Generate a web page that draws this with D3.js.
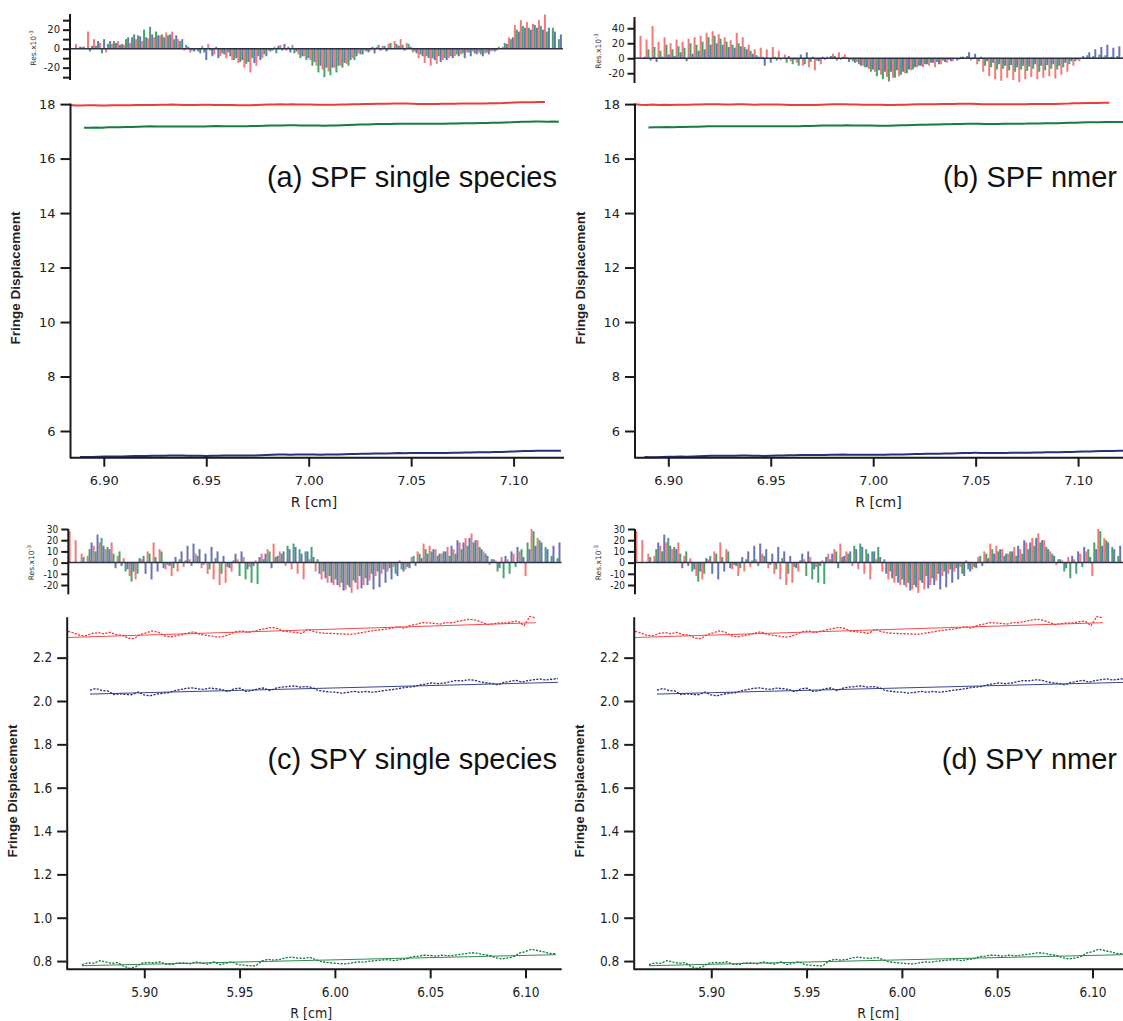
<!DOCTYPE html>
<html>
<head>
<meta charset="utf-8">
<script src="https://cdn.jsdelivr.net/npm/d3@7"></script>
<style>
  body { margin: 0; background: #fff; }
  svg { display: block; }
</style>
</head>
<body>
<svg id="chart" width="1123" height="1021"></svg>
<script>
// ---------------- SPF run (panels a, b) ----------------
// radial range of each scan [start, end] in cm
const spfRedRange   = [6.8835, 7.1153];
const spfGreenRange = [6.8903, 7.1221];
const spfBlueRange  = [6.8884, 7.1231];
// linear fits: [fringe value at range start, slope per cm]
const spfRedFit   = [17.94, 0.45];
const spfGreenFit = [17.13, 0.92];
const spfBlueFit  = [5.04, 0.94];

// residuals (x10^-3), single species fit
const spfSingleRedRes = [25,5,2,18,10,6,-4,5,8,4, 6,10,8,11,12,14,17,18,10,-2, -4,0,3,5,-6,-8,-10,-12,-15,-20,
  -25,-18,-10,-2,2,4,-2,4,-6,-8, -12,-18,-22,-24,-20,-18,-16,-10,-5,-2, -2,2,3,5,8,10,6,-4,-10,-15,
  -18,-16,-12,-10,-8,-6,-4,-3,-4,-5, -3,-2,2,12,25,30,28,26,30,36];
const spfSingleGreenRes = [2,-3,3,-5,5,8,4,10,12,14, 20,23,18,15,14,10,8,4,-2,-3, -4,-2,2,-5,-4,-12,-14,-16,-10,-8,
  -6,-3,-5,-2,2,-5,-10,-12,-18,-25, -30,-28,-25,-20,-18,-12,-6,-3,2,4, 3,6,5,4,5,-3,-6,-8,-10,-8,
  -10,-8,-6,-5,-4,-5,-6,-4,-2,2, 6,10,20,24,22,25,24,18,22,10];
const spfSingleBlueRes = [2,0,3,8,10,8,6,5,12,15, 13,12,15,14,12,15,14,10,2,-3, -5,-12,-8,-10,-6,-8,-10,-12,-14,-15,
  -12,-8,-2,3,5,-4,-3,-8,-10,-14, -18,-20,-20,-18,-15,-12,-8,-6,-4,-5, -2,-3,0,3,-2,2,-5,-8,-10,-12,
  -14,-12,-10,-8,-10,-8,-6,-8,-6,-3, 0,5,12,18,22,20,22,20,22,18, 15];

// residuals (x10^-3), nmer fit
const spfNmerRedRes = [50,30,25,43,22,28,20,25,22,26, 28,30,34,36,32,28,24,34,28,18, 12,14,12,15,10,5,-4,-6,-10,-12,
  -16,-8,2,6,8,5,-2,-5,-10,-14, -18,-22,-25,-26,-24,-20,-16,-12,-12,-10, -12,-8,-6,-4,-2,0,-3,-8,-18,-24,
  -28,-30,-26,-29,-32,-28,-25,-28,-26,-24, -27,-22,-18,-10,-4,-1,1,0,2,1];
const spfNmerGreenRes = [12,15,10,18,12,16,14,20,18,22, 28,30,26,22,18,20,15,10,4,2, 0,2,-2,-6,-8,-10,-8,-5,-3,2,
  0,3,-2,1,-4,-8,-12,-18,-24,-28, -31,-26,-22,-20,-15,-10,-8,-6,-5,-3, -2,0,2,3,1,-4,-10,-12,-15,-14,
  -16,-18,-15,-17,-14,-18,-16,-14,-15,-12, -8,-4,0,4,3,5,4,2,3,2];
const spfNmerBlueRes = [2,-3,-5,2,5,3,8,-4,6,10, 12,18,20,18,15,14,16,12,6,2, -10,-6,-3,0,3,-2,5,8,2,-4,
  -2,3,-3,2,-5,-6,-10,-12,-15,-16, -18,-18,-16,-18,-15,-12,-10,-8,-6,-8, -5,-4,-3,2,8,6,2,-4,-6,-8,
  -10,-9,-12,-10,-11,-8,-10,-9,-8,-10, -6,-4,-2,3,8,12,15,18,14,16, 12,18];
const spfNmerBlueRange = [6.8884, 7.1260];

// ---------------- SPY run (panels c, d) ----------------
const spyRedRange   = [5.8600, 6.1055];
const spyGreenRange = [5.8673, 6.1160];
const spyBlueRange  = [5.8715, 6.1170];
const spyRedFit   = [2.293, 0.278];
const spyGreenFit = [0.7785, 0.205];
const spyBlueFit  = [2.032, 0.220];

const spyRedRes = [28,20,8,6,15,18,12,18,6,4, -12,-15,3,10,18,12,-6,-12,-8,-4, 3,8,-5,-10,-15,-20,-18,-8,3,5,
  -4,2,8,12,17,10,-3,-6,-10,-15, 3,-8,-15,-18,-20,-22,-24,-27,-24,-20, -16,-12,-10,-8,-4,2,-6,5,10,17,
  15,12,8,14,12,18,22,26,20,10, -2,2,5,3,8,10,-12,30,22];
const spyGreenRes = [5,12,10,22,14,8,10,-8,-17,-10, 6,8,5,10,-2,-5,3,2,-3,6, -2,-6,4,-10,-4,2,-12,-15,-18,-19,
  3,10,5,8,15,17,12,10,14,3, -8,-12,-15,-18,-20,-16,-12,-14,-10,-8, -6,-5,-10,-6,-4,6,8,12,10,6,
  10,6,8,12,15,18,14,8,3,-8, -14,-10,-4,12,18,28,20,14,6,4];
const spyBlueRes = [18,25,15,12,-5,-3,-6,-8,4,-10, -15,-8,-5,-3,5,10,15,17,12,8, 14,10,6,-5,8,10,-6,-3,5,8,
  -5,6,10,12,14,8,10,5,-10,-14, -18,-20,-25,-22,-18,-23,-20,-24,-22,-18, -15,-12,-8,-5,-3,4,8,12,8,10,
  15,20,18,22,20,12,6,3,-5,6, 10,14,5,12,15,18,12,15,18];

// ---------------- axis ticks and labels ----------------
const spfXTicks = [6.90, 6.95, 7.00, 7.05, 7.10];
const spyXTicks = [5.90, 5.95, 6.00, 6.05, 6.10];
const spfYTicks = [6, 8, 10, 12, 14, 16, 18];
const spyYTicks = [0.8, 1.0, 1.2, 1.4, 1.6, 1.8, 2.0, 2.2];
const spfSingleResTicks = [-30, -20, -10, 0, 10, 20, 30];
const spfSingleResLabels = [-20, 0, 20];
const spfNmerResTicks = [-20, 0, 20, 40];
const spyResTicks = [-20, -10, 0, 10, 20, 30];
const panelTitles = ["(a) SPF single species", "(b) SPF nmer", "(c) SPY single species", "(d) SPY nmer"];

// ---------------- styling ----------------
const colors = {
  red:   { line: "#f03a3a", bar: "#f26a6a" },
  green: { line: "#177c3e", bar: "#2f9c5c" },
  blue:  { line: "#27307c", bar: "#5a64ad" }
};
const fontMain = "'DejaVu Sans', sans-serif";
const fontCond = "'DejaVu Sans Condensed', 'DejaVu Sans', sans-serif";
const fontTitle = "'Liberation Sans', Arial, sans-serif";

function toPoints(range, fit, res) {
  const step = (range[1] - range[0]) / (res.length - 1);
  return res.map((v, i) => {
    const r = range[0] + i * step;
    const f = fit[0] + fit[1] * (r - range[0]);
    return { r, res: v, fit: f, val: f + v / 1000 };
  });
}

const spfSeriesA = [
  { c: "red",   pts: toPoints(spfRedRange, spfRedFit, spfSingleRedRes) },
  { c: "green", pts: toPoints(spfGreenRange, spfGreenFit, spfSingleGreenRes) },
  { c: "blue",  pts: toPoints(spfBlueRange, spfBlueFit, spfSingleBlueRes) }
];
const spfSeriesB = [
  { c: "red",   pts: toPoints(spfRedRange, spfRedFit, spfNmerRedRes) },
  { c: "green", pts: toPoints(spfGreenRange, spfGreenFit, spfNmerGreenRes) },
  { c: "blue",  pts: toPoints(spfNmerBlueRange, spfBlueFit, spfNmerBlueRes) }
];
const spySeries = [
  { c: "red",   pts: toPoints(spyRedRange, spyRedFit, spyRedRes) },
  { c: "green", pts: toPoints(spyGreenRange, spyGreenFit, spyGreenRes) },
  { c: "blue",  pts: toPoints(spyBlueRange, spyBlueFit, spyBlueRes) }
];

const spfLayout = {
  xDomain: [6.8835, 7.1246], width: 494, xTicks: spfXTicks, xFmt: d3.format(".2f"),
  yDomain: [5.02, 18.04], mainTop: 103, mainBottom: 457.7, yTicks: spfYTicks, yFmt: d3.format("d"),
  font: fontMain, tickFont: 13, resFont: 10, fit: false, lineW: 2,
  yTitleY: 278, titleY: 187, xTitleY: 507
};
const spyLayout = {
  xDomain: [5.8593, 6.1190], width: 495, xTicks: spyXTicks, xFmt: d3.format(".2f"),
  yDomain: [0.762, 2.389], mainTop: 616.7, mainBottom: 969.3, yTicks: spyYTicks, yFmt: d3.format(".1f"),
  font: fontCond, tickFont: 13.5, resFont: 10, fit: true, lineW: 1.3,
  yTitleY: 791, titleY: 769, xTitleY: 1018
};

const panels = [
  Object.assign({}, spfLayout, { left: 70, resLeft: 70, series: spfSeriesA, title: panelTitles[0], titleX: 557,
    resDomain: [-33, 36.5], resTop: 14, resBottom: 80, resTicks: spfSingleResTicks, resLabels: spfSingleResLabels }),
  Object.assign({}, spfLayout, { left: 634.5, resLeft: 634.5, series: spfSeriesB, title: panelTitles[1], titleX: 1117,
    resDomain: [-33, 55], resTop: 17, resBottom: 83, resTicks: spfNmerResTicks, resLabels: spfNmerResTicks }),
  Object.assign({}, spyLayout, { left: 66.7, resLeft: 68.3, series: spySeries, title: panelTitles[2], titleX: 557,
    resDomain: [-28.3, 30], resTop: 529, resBottom: 594.3, resTicks: spyResTicks, resLabels: spyResTicks }),
  Object.assign({}, spyLayout, { left: 633.7, resLeft: 635, series: spySeries, title: panelTitles[3], titleX: 1117,
    resDomain: [-28.3, 30], resTop: 529, resBottom: 594.3, resTicks: spyResTicks, resLabels: spyResTicks })
];

const svg = d3.select("#chart");

function styleAxis(g, font, size, width) {
  g.select(".domain").attr("stroke", "#1a1a1a").attr("stroke-width", width);
  g.selectAll(".tick line").attr("stroke", "#1a1a1a").attr("stroke-width", width);
  g.selectAll(".tick text").attr("fill", "#222").style("font-family", font).style("font-size", size + "px");
}

panels.forEach(p => {
  const g = svg.append("g");
  const x = d3.scaleLinear().domain(p.xDomain).range([p.left, p.left + p.width]);
  const xr = d3.scaleLinear().domain(p.xDomain).range([p.resLeft, p.resLeft + p.width]);
  const yRes = d3.scaleLinear().domain(p.resDomain).range([p.resBottom, p.resTop]);
  const y = d3.scaleLinear().domain(p.yDomain).range([p.mainBottom, p.mainTop]);

  // residual bars, one thin bar per radial point
  const resG = g.append("g");
  let rMax = -Infinity;
  p.series.forEach(s => {
    s.pts.forEach(d => { rMax = Math.max(rMax, d.r); });
    resG.selectAll(null).data(s.pts).enter().append("rect")
      .attr("x", d => xr(d.r) - 1)
      .attr("width", 2)
      .attr("y", d => Math.min(yRes(d.res), yRes(0)))
      .attr("height", d => Math.abs(yRes(d.res) - yRes(0)))
      .attr("fill", colors[s.c].bar)
      .attr("fill-opacity", 0.9);
  });
  // zero line
  resG.append("line")
    .attr("x1", p.resLeft).attr("x2", xr(rMax) + 2)
    .attr("y1", yRes(0)).attr("y2", yRes(0))
    .attr("stroke", "#2a3048").attr("stroke-width", 1.5);

  // residual axis
  const resAxis = g.append("g")
    .attr("transform", `translate(${p.resLeft},0)`)
    .call(d3.axisLeft(yRes).tickValues(p.resTicks).tickSize(7).tickSizeOuter(0).tickPadding(3)
      .tickFormat(v => p.resLabels.includes(v) ? String(v) : ""));
  styleAxis(resAxis, p.font, p.resFont, 2);
  resAxis.select(".domain").attr("d", `M0,${p.resTop}V${p.resBottom}`);

  // residual axis label
  const rl = g.append("text")
    .attr("transform", `translate(${p.resLeft - 34},${(p.resTop + p.resBottom) / 2 + 1}) rotate(-90)`)
    .attr("text-anchor", "middle")
    .style("font-family", fontMain).style("font-size", "7.5px").attr("fill", "#333");
  rl.append("tspan").text("Res.x10");
  rl.append("tspan").attr("dy", -3).style("font-size", "5.5px").text("-3");

  // main data
  const mainG = g.append("g");
  const line = d3.line().x(d => x(d.r)).y(d => y(d.val));
  const fitLine = d3.line().x(d => x(d.r)).y(d => y(d.fit));
  p.series.forEach(s => {
    if (p.fit) {
      mainG.append("path").datum([s.pts[0], s.pts[s.pts.length - 1]])
        .attr("d", fitLine).attr("fill", "none")
        .attr("stroke", colors[s.c].line).attr("stroke-width", 1).attr("stroke-opacity", 0.9);
    }
    const path = mainG.append("path").datum(s.pts)
      .attr("d", line).attr("fill", "none")
      .attr("stroke", colors[s.c].line).attr("stroke-width", p.lineW)
      .attr("stroke-linejoin", "round");
    if (p.fit) path.attr("stroke-dasharray", "2.2,1.3");
  });

  // main axes
  const yAxis = g.append("g")
    .attr("transform", `translate(${p.left},0)`)
    .call(d3.axisLeft(y).tickValues(p.yTicks).tickFormat(p.yFmt).tickSize(9.5).tickSizeOuter(0).tickPadding(5));
  styleAxis(yAxis, p.font, p.tickFont, 2);

  const xAxis = g.append("g")
    .attr("transform", `translate(0,${p.mainBottom})`)
    .call(d3.axisBottom(x).tickValues(p.xTicks).tickFormat(p.xFmt).tickSize(9).tickSizeOuter(0).tickPadding(9));
  styleAxis(xAxis, p.font, p.tickFont, 2);
  xAxis.select(".domain").attr("d", `M${p.left},0H${p.left + p.width}`);

  // axis titles
  g.append("text")
    .attr("x", x((p.xDomain[0] + p.xDomain[1]) / 2) - 3)
    .attr("y", p.xTitleY)
    .attr("text-anchor", "middle")
    .style("font-family", p.font).style("font-size", "14px").attr("fill", "#222")
    .text("R [cm]");

  g.append("text")
    .attr("transform", `translate(${p.left - 50},${p.yTitleY}) rotate(-90)`)
    .attr("text-anchor", "middle")
    .style("font-family", fontTitle).style("font-weight", "bold").style("font-size", "13.5px").attr("fill", "#222")
    .text("Fringe Displacement");

  // panel title
  g.append("text")
    .attr("x", p.titleX).attr("y", p.titleY)
    .attr("text-anchor", "end")
    .style("font-family", fontTitle).style("font-size", "29px").attr("fill", "#111")
    .text(p.title);
});
</script>
</body>
</html>
